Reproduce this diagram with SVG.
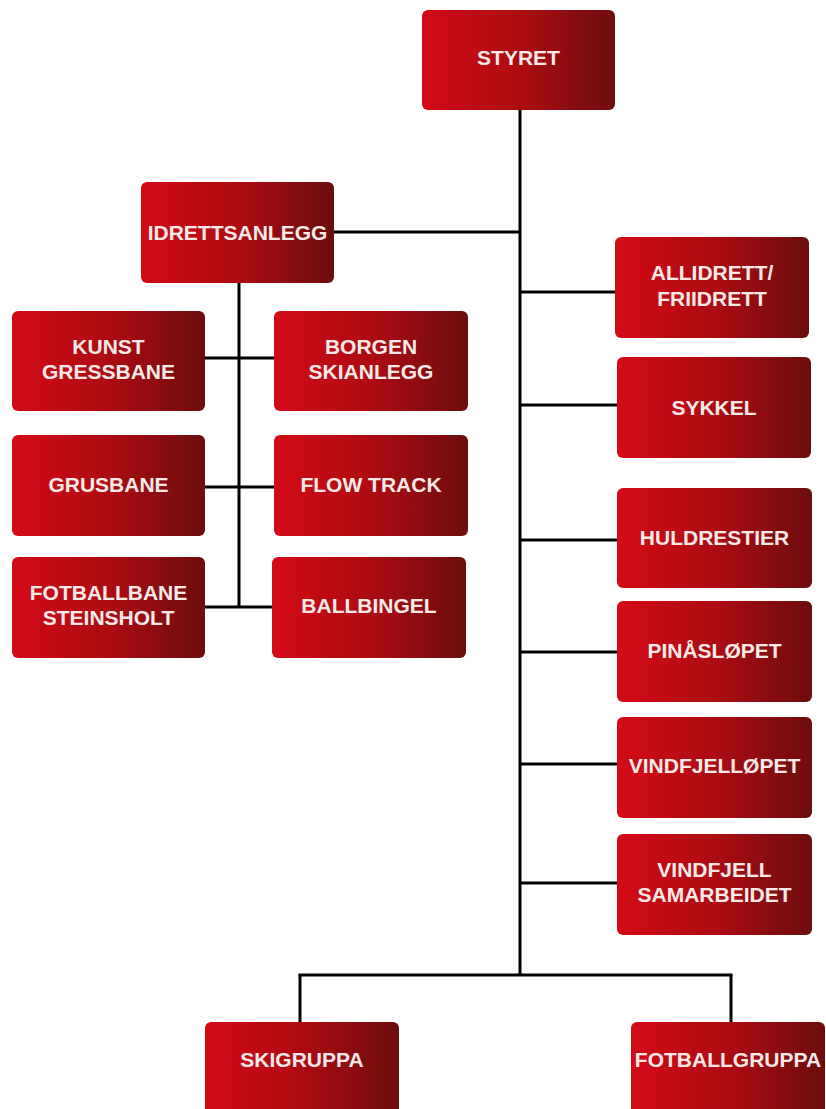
<svg xmlns="http://www.w3.org/2000/svg" width="826" height="1109" viewBox="0 0 826 1109">
<defs>
<linearGradient id="g" x1="0" y1="0" x2="1" y2="0">
<stop offset="0" stop-color="#d30a16"/>
<stop offset="0.5" stop-color="#ad0c12"/>
<stop offset="1" stop-color="#6c0d0d"/>
</linearGradient>
</defs>
<style>
.box{fill:url(#g);}
.t{font-family:"Liberation Sans",Arial,sans-serif;font-weight:bold;font-size:21px;fill:#f8e9e9;text-anchor:middle;}
.c{stroke:#000;stroke-width:3;fill:none;}
</style>
<rect width="826" height="1109" fill="#fff"/>
<g id="connectors">
<line class="c" x1="520" y1="110" x2="520" y2="976"/>
<line class="c" x1="334" y1="232" x2="520" y2="232"/>
<line class="c" x1="520" y1="292" x2="615" y2="292"/>
<line class="c" x1="520" y1="405" x2="617" y2="405"/>
<line class="c" x1="520" y1="540" x2="617" y2="540"/>
<line class="c" x1="520" y1="652" x2="617" y2="652"/>
<line class="c" x1="520" y1="764" x2="617" y2="764"/>
<line class="c" x1="520" y1="883" x2="617" y2="883"/>
<line class="c" x1="298.5" y1="975" x2="732.5" y2="975"/>
<line class="c" x1="300" y1="975" x2="300" y2="1022"/>
<line class="c" x1="731" y1="975" x2="731" y2="1022"/>
<line class="c" x1="239" y1="283" x2="239" y2="608"/>
<line class="c" x1="205" y1="358" x2="274" y2="358"/>
<line class="c" x1="205" y1="487" x2="274" y2="487"/>
<line class="c" x1="205" y1="607" x2="272" y2="607"/>
</g>
<g id="styret"><rect class="box" x="422" y="10" width="193" height="100" rx="6"/><text class="t" x="518.5" y="65">STYRET</text></g>
<g id="idrettsanlegg"><rect class="box" x="141" y="182" width="193" height="101" rx="6"/><text class="t" x="237.5" y="240">IDRETTSANLEGG</text></g>
<g id="kunstgress"><rect class="box" x="12" y="311" width="193" height="100" rx="6"/><text class="t" x="108.5" y="354">KUNST</text><text class="t" x="108.5" y="379">GRESSBANE</text></g>
<g id="borgen"><rect class="box" x="274" y="311" width="194" height="100" rx="6"/><text class="t" x="371" y="354">BORGEN</text><text class="t" x="371" y="379">SKIANLEGG</text></g>
<g id="grusbane"><rect class="box" x="12" y="435" width="193" height="101" rx="6"/><text class="t" x="108.5" y="492">GRUSBANE</text></g>
<g id="flowtrack"><rect class="box" x="274" y="435" width="194" height="101" rx="6"/><text class="t" x="371" y="492">FLOW TRACK</text></g>
<g id="fotballbane"><rect class="box" x="12" y="557" width="193" height="101" rx="6"/><text class="t" x="108.5" y="600">FOTBALLBANE</text><text class="t" x="108.5" y="625">STEINSHOLT</text></g>
<g id="ballbingel"><rect class="box" x="272" y="557" width="194" height="101" rx="6"/><text class="t" x="369" y="613">BALLBINGEL</text></g>
<g id="allidrett"><rect class="box" x="615" y="237" width="194" height="101" rx="6"/><text class="t" x="712" y="280">ALLIDRETT/</text><text class="t" x="712" y="306">FRIIDRETT</text></g>
<g id="sykkel"><rect class="box" x="617" y="357" width="194" height="101" rx="6"/><text class="t" x="714" y="415">SYKKEL</text></g>
<g id="huldrestier"><rect class="box" x="617" y="488" width="195" height="100" rx="6"/><text class="t" x="714.5" y="545">HULDRESTIER</text></g>
<g id="pinasloepet"><rect class="box" x="617" y="601" width="195" height="101" rx="6"/><text class="t" x="714.5" y="658">PINÅSLØPET</text></g>
<g id="vindfjelloepet"><rect class="box" x="617" y="717" width="195" height="101" rx="6"/><text class="t" x="714.5" y="773">VINDFJELLØPET</text></g>
<g id="vindfjellsamarbeidet"><rect class="box" x="617" y="834" width="195" height="101" rx="6"/><text class="t" x="714.5" y="877">VINDFJELL</text><text class="t" x="714.5" y="902">SAMARBEIDET</text></g>
<g id="skigruppa"><rect class="box" x="205" y="1022" width="194" height="100" rx="6"/><text class="t" x="302" y="1067">SKIGRUPPA</text></g>
<g id="fotballgruppa"><rect class="box" x="631" y="1022" width="194" height="100" rx="6"/><text class="t" x="728" y="1067">FOTBALLGRUPPA</text></g>
</svg>
